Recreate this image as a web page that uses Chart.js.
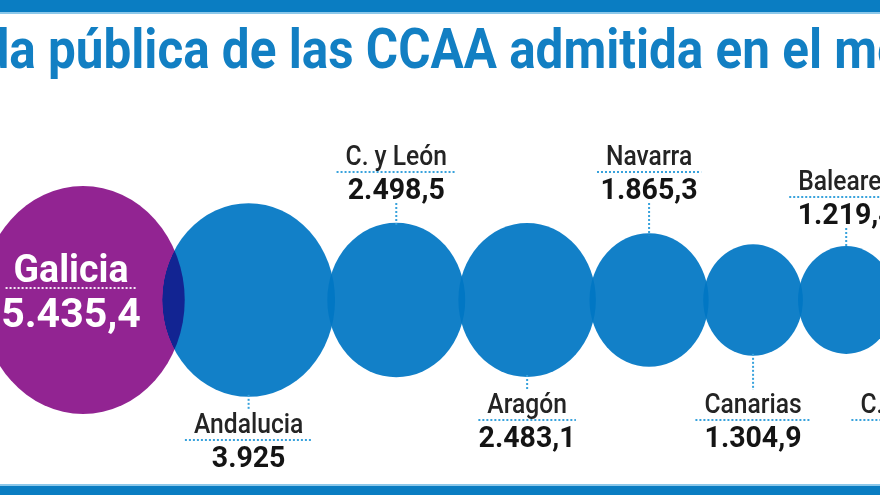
<!DOCTYPE html>
<html><head><meta charset="utf-8">
<script src="https://cdn.jsdelivr.net/npm/chart.js@4.4.1/dist/chart.umd.min.js"></script>
<style>html,body{margin:0;padding:0;background:#fff;}#wrap{position:relative;width:880px;height:495px;overflow:hidden;background:#fff}canvas{display:block}</style>
</head><body><div id="wrap"><canvas id="c" width="880" height="495"></canvas></div>
<script>
// ---- data ----
const title = 'Deuda pública de las CCAA admitida en el mercado';
const categories = ['Galicia', 'Andalucia', 'C. y León', 'Aragón', 'Navarra', 'Canarias', 'Baleares', 'C. La Mancha'];
const values = [5435.4, 3925, 2498.5, 2483.1, 1865.3, 1304.9, 1219.4, 1100];

// ---- style ----
const STYLE = {
  purple: 'rgb(146,36,146)',
  blue: 'rgba(0,118,196,0.93)',
  bar: '#0a7dc2', barLine: '#8cc8ea',
  titleColor: '#127fc3',
  dots: '#38a2dc',
  nameColor: '#242424', valueColor: '#141414',
  radiusK: 1.38, stretch: 1.12, firstOverlap: 0.88, overlap: 0.95,
  aboveTop: 145, belowTop: 393, nudge: {6: 25, 1: 20}
};

const radii = values.map(v => STYLE.radiusK * Math.sqrt(v));
const xs = [];
radii.forEach((r, i) => xs.push(i === 0 ? 0 : xs[i - 1] + (i === 1 ? STYLE.firstOverlap : STYLE.overlap) * (radii[i - 1] + r)));

function fmt(v) {
  const parts = v.toFixed(1).split('.');
  const int = parts[0].replace(/\B(?=(\d{3})+(?!\d))/g, '.');
  return parts[1] === '0' ? int : int + ',' + parts[1];
}

function txt(ctx, s, x, y, font, color, sx) {
  ctx.save();
  ctx.font = font; ctx.fillStyle = color; ctx.textAlign = 'center'; ctx.textBaseline = 'alphabetic';
  ctx.translate(x, y); ctx.scale(sx, 1); ctx.fillText(s, 0, 0);
  const w = ctx.measureText(s).width * sx;
  ctx.restore();
  return w;
}
function dotted(ctx, x1, y1, x2, y2, color) {
  ctx.save();
  ctx.strokeStyle = color; ctx.lineWidth = 2; ctx.setLineDash([2, 2]);
  ctx.beginPath(); ctx.moveTo(x1, y1); ctx.lineTo(x2, y2); ctx.stroke();
  ctx.restore();
}

const decor = {
  id: 'decor',
  beforeDraw(chart) {
    const ctx = chart.ctx, W = chart.width, H = chart.height;
    ctx.save();
    ctx.fillStyle = '#fff'; ctx.fillRect(0, 0, W, H);
    ctx.fillStyle = STYLE.bar; ctx.fillRect(0, 0, W, 12);
    ctx.fillStyle = STYLE.barLine; ctx.fillRect(0, 12, W, 2);
    ctx.fillStyle = STYLE.barLine; ctx.fillRect(0, 484, W, 2);
    ctx.fillStyle = STYLE.bar; ctx.fillRect(0, 486, W, H - 486);
    // title
    ctx.font = 'bold 55px Roboto';
    const pre = ctx.measureText('Deuda ').width;
    const mid = ctx.measureText('pública de las CCAA admitida en el').width;
    const sx = (822 - 48) / mid;
    ctx.translate(48 - pre * sx, 68); ctx.scale(sx, 1);
    ctx.fillStyle = STYLE.titleColor; ctx.textBaseline = 'alphabetic'; ctx.textAlign = 'left';
    ctx.fillText(title, 0, 0);
    ctx.restore();
  },
  beforeDatasetsDraw(chart) {
    const ctx = chart.ctx, cy = chart.scales.y.getPixelForValue(0);
    ctx.save(); ctx.translate(0, cy); ctx.scale(1, STYLE.stretch); ctx.translate(0, -cy);
  },
  afterDatasetsDraw(chart) { chart.ctx.restore(); },
  beforeDatasetDraw(chart, args) {
    if (args.index === 0) { chart.ctx.save(); chart.ctx.globalCompositeOperation = 'darken'; }
  },
  afterDatasetDraw(chart, args) { if (args.index === 0) chart.ctx.restore(); },
  afterDraw(chart) {
    const ctx = chart.ctx, xS = chart.scales.x, cy = chart.scales.y.getPixelForValue(0);
    // Galicia inside label
    const gx = xS.getPixelForValue(xs[0]) - 12;
    const gw = txt(ctx, categories[0], gx, 282, 'bold 39px Roboto', '#fff', 0.96);
    dotted(ctx, gx - gw / 2 - 8, 288, gx + gw / 2 + 8, 288, 'rgba(255,255,255,0.9)');
    txt(ctx, fmt(values[0]), gx, 327, 'bold 41px Roboto', '#fff', 1);
    for (let i = 1; i < categories.length; i++) {
      const px = xS.getPixelForValue(xs[i]);
      const r = radii[i] * STYLE.stretch;
      const above = i % 2 === 0;
      const T = (above ? STYLE.aboveTop : STYLE.belowTop) + (STYLE.nudge[i] || 0);
      const w = txt(ctx, categories[i], px, T + 20, '500 28px Roboto', STYLE.nameColor, 0.88);
      dotted(ctx, px - w / 2 - 9, T + 27, px + w / 2 + 9, T + 27, STYLE.dots);
      txt(ctx, fmt(values[i]), px, T + 54, 'bold 30px Roboto', STYLE.valueColor, 0.95);
      if (above) dotted(ctx, px, T + 58, px, cy - r + 2, STYLE.dots);
      else dotted(ctx, px, cy + r - 2, px, T - 3, STYLE.dots);
    }
  }
};

new Chart(document.getElementById('c'), {
  type: 'bubble',
  data: {
    datasets: [
      { label: categories[0], data: [{ x: xs[0], y: 0, r: radii[0] }], backgroundColor: STYLE.purple, borderWidth: 0, clip: false },
      { label: 'CCAA', data: categories.slice(1).map((c, k) => ({ x: xs[k + 1], y: 0, r: radii[k + 1] })), backgroundColor: STYLE.blue, borderWidth: 0, clip: false }
    ]
  },
  options: {
    responsive: false, animation: false, events: [],
    layout: { autoPadding: false, padding: { top: 105, bottom: 0, left: 0, right: 0 } },
    scales: {
      x: { type: 'linear', min: -83, max: 797, display: false },
      y: { type: 'linear', min: -1, max: 1, display: false }
    },
    plugins: { legend: { display: false }, tooltip: { enabled: false }, title: { display: false } }
  },
  plugins: [decor]
});
</script></body></html>
